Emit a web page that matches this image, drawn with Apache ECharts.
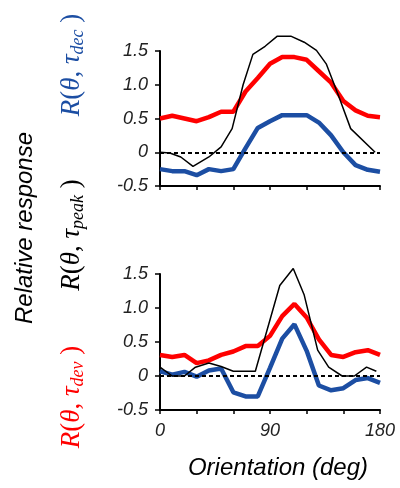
<!DOCTYPE html>
<html>
<head>
<meta charset="utf-8">
<style>
  html, body { margin: 0; padding: 0; background: #fff; }
  #main { width: 400px; height: 488px; }
</style>
<script src="https://cdn.jsdelivr.net/npm/echarts@6/dist/echarts.min.js"></script>
</head>
<body>
<div id="main"></div>
<script>
// orientation samples for the thick curves (deg)
const angles = [0, 10, 20, 30, 40, 50, 60, 70, 80, 90, 100, 110, 120, 130, 140, 150, 160, 170, 180];

// top panel
const topRed = [0.50, 0.54, 0.50, 0.46, 0.52, 0.60, 0.60, 0.90, 1.10, 1.31, 1.41, 1.41, 1.37, 1.20, 1.03, 0.76, 0.62, 0.54, 0.52];
const topBlue = [-0.25, -0.28, -0.28, -0.34, -0.25, -0.28, -0.25, 0.06, 0.36, 0.46, 0.55, 0.55, 0.55, 0.44, 0.25, 0.0, -0.19, -0.26, -0.29];
const topBlackX = [0, 8, 17, 27, 40, 50, 59, 68, 76, 86, 96, 107, 118, 128, 136, 146, 156, 176];
const topBlackY = [0, -0.01, -0.07, -0.21, -0.07, 0.08, 0.35, 1.0, 1.45, 1.57, 1.72, 1.72, 1.63, 1.51, 1.31, 0.84, 0.35, 0.0];

// bottom panel
const bottomRed = [0.31, 0.28, 0.31, 0.19, 0.23, 0.31, 0.36, 0.44, 0.44, 0.59, 0.88, 1.06, 0.86, 0.54, 0.31, 0.28, 0.35, 0.38, 0.31];
const bottomBlue = [0.07, 0.02, 0.06, -0.01, 0.08, 0.11, -0.24, -0.30, -0.30, 0.12, 0.55, 0.76, 0.37, -0.14, -0.21, -0.18, -0.06, -0.03, -0.10];
const bottomBlackX = [0, 10, 20, 29, 40, 50, 60, 78, 98, 109, 118, 129, 138, 149, 159, 169, 177];
const bottomBlackY = [0.13, 0, 0, 0.13, 0.19, 0.14, 0.07, 0.07, 1.33, 1.58, 1.19, 0.38, 0.13, 0, 0, 0.13, 0.07];

const xTicks = [0, 90, 180];

const RED = '#ff0000';
const BLUE = '#1c4ea3';
const tickFont = { fontFamily: 'Liberation Sans', fontStyle: 'italic', fontSize: 18, color: '#222' };

const zip = (xs, ys) => xs.map((x, i) => [x, ys[i]]);

function makeX(idx, showLabels) {
  return {
    type: 'value', gridIndex: idx, min: 0, max: 180, interval: 30,
    axisLine: { onZero: false, lineStyle: { color: '#000', width: 2 } },
    axisTick: { length: 4, lineStyle: { color: '#000', width: 1.5 } },
    splitLine: { show: false },
    axisLabel: Object.assign({
      show: showLabels, margin: 12,
      formatter: v => (xTicks.indexOf(v) >= 0 ? String(v) : '')
    }, tickFont)
  };
}
function makeY(idx) {
  return {
    type: 'value', gridIndex: idx, min: -0.5, max: 1.5, interval: 0.5,
    axisLine: { show: true, lineStyle: { color: '#000', width: 2 } },
    axisTick: { show: true, length: 5, lineStyle: { color: '#000', width: 1.5 } },
    splitLine: { show: false },
    axisLabel: Object.assign({
      margin: 12,
      formatter: v => (v === 0 ? '0' : v.toFixed(1))
    }, tickFont)
  };
}

const zeroLine = {
  silent: true, symbol: 'none', label: { show: false },
  lineStyle: { color: '#000', type: [4, 3], width: 2 },
  data: [{ yAxis: 0 }]
};

function thick(idx, data, color, withZero) {
  const s = {
    type: 'line', xAxisIndex: idx, yAxisIndex: idx, data: data,
    showSymbol: false, clip: false, lineStyle: { color: color, width: 4.5 }, z: 3
  };
  if (withZero) s.markLine = zeroLine;
  return s;
}
function thin(idx, data) {
  return {
    type: 'line', xAxisIndex: idx, yAxisIndex: idx, data: data,
    showSymbol: false, clip: false, lineStyle: { color: '#000', width: 1.5 }, z: 4
  };
}

// rotated math labels, R(θ, τ_sub)
function mathLabel(sub, color, cy) {
  return {
    type: 'text', x: 72, y: cy, rotation: Math.PI / 2,
    style: {
      text: '{m|R}{u|(}{m|θ}{u|, }{m|τ}{s|' + sub + '}{u| )}',
      fill: color, align: 'center', verticalAlign: 'middle',
      rich: {
        m: { fontFamily: 'Liberation Serif', fontStyle: 'italic', fontSize: 27, lineHeight: 30, fill: color, verticalAlign: 'middle' },
        u: { fontFamily: 'Liberation Serif', fontSize: 27, lineHeight: 30, fill: color, verticalAlign: 'middle' },
        s: { fontFamily: 'Liberation Serif', fontStyle: 'italic', fontSize: 18, lineHeight: 16, fill: color, verticalAlign: 'bottom' }
      }
    }
  };
}

const chart = echarts.init(document.getElementById('main'), null, { renderer: 'canvas' });
chart.setOption({
  animation: false,
  backgroundColor: '#fff',
  grid: [
    { left: 160, right: 20, top: 51, height: 135 },
    { left: 160, right: 20, top: 274, height: 136 }
  ],
  xAxis: [makeX(0, false), makeX(1, true)],
  yAxis: [makeY(0), makeY(1)],
  series: [
    thick(0, zip(angles, topRed), RED, true),
    thick(0, zip(angles, topBlue), BLUE, false),
    thin(0, zip(topBlackX, topBlackY)),
    thick(1, zip(angles, bottomRed), RED, true),
    thick(1, zip(angles, bottomBlue), BLUE, false),
    thin(1, zip(bottomBlackX, bottomBlackY))
  ],
  graphic: [
    {
      type: 'text', x: 25, y: 228, rotation: Math.PI / 2,
      style: { text: 'Relative response', fontFamily: 'Liberation Sans', fontStyle: 'italic', fontSize: 24, fill: '#000', align: 'center', verticalAlign: 'middle' }
    },
    mathLabel('dec', BLUE, 65),
    mathLabel('peak', '#000', 235),
    mathLabel('dev', RED, 397),
    {
      type: 'text', x: 278, y: 468,
      style: { text: 'Orientation (deg)', fontFamily: 'Liberation Sans', fontStyle: 'italic', fontSize: 24, fill: '#000', align: 'center', verticalAlign: 'middle' }
    }
  ]
});
</script>
</body>
</html>
